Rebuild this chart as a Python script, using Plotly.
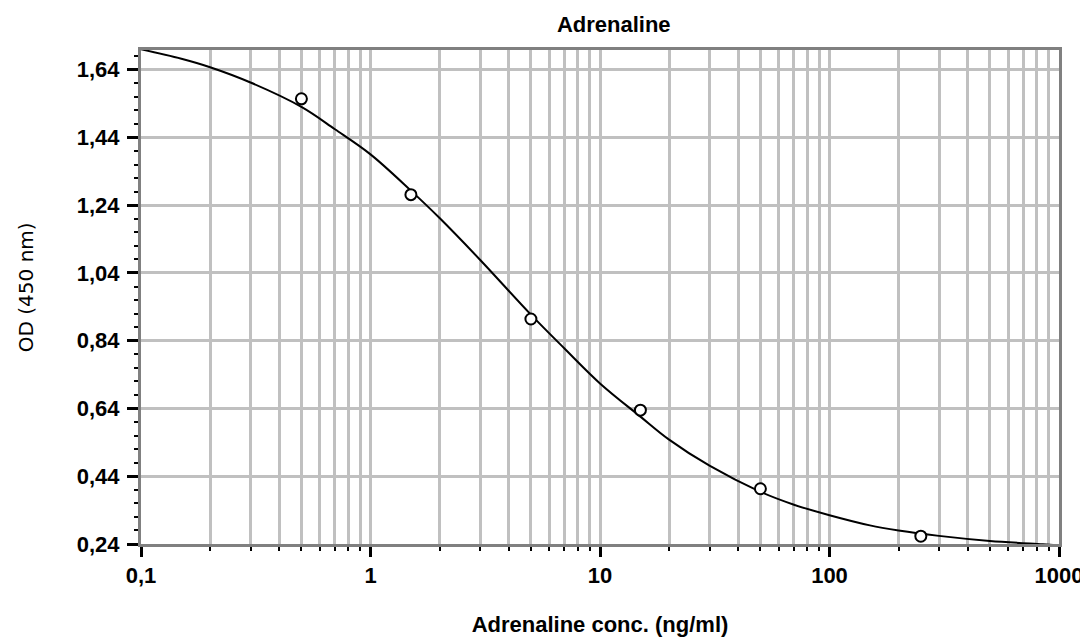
import plotly.graph_objects as go

# Measured standards
conc = [0.5, 1.5, 5, 15, 50, 250]
od = [1.554, 1.271, 0.904, 0.635, 0.403, 0.263]

# Fitted curve
curve_conc = [0.1, 0.15, 0.2, 0.3, 0.5, 0.7, 1, 1.5, 2, 3, 5, 7, 10, 15, 20,
              30, 50, 70, 100, 150, 200, 300, 500, 850, 1000]
curve_od = [1.700, 1.672, 1.647, 1.602, 1.530, 1.464, 1.390, 1.283, 1.202, 1.079,
            0.917, 0.817, 0.714, 0.616, 0.548, 0.471, 0.394, 0.356, 0.325, 0.295,
            0.280, 0.264, 0.249, 0.239, 0.236]

x_tick_vals = [0.1, 1, 10, 100, 1000]
x_tick_text = ["0,1", "1", "10", "100", "1000"]
x_minor_vals = [0.2, 0.3, 0.4, 0.5, 0.6, 0.7, 0.8, 0.9,
                2, 3, 4, 5, 6, 7, 8, 9,
                20, 30, 40, 50, 60, 70, 80, 90,
                200, 300, 400, 500, 600, 700, 800, 900]
y_tick_vals = [0.24, 0.44, 0.64, 0.84, 1.04, 1.24, 1.44, 1.64]
y_tick_text = ["0,24", "0,44", "0,64", "0,84", "1,04", "1,24", "1,44", "1,64"]

title_text = "Adrenaline"
x_title = "Adrenaline conc. (ng/ml)"
y_title = "OD (450 nm)"

bold = dict(family="Liberation Sans, Arial, sans-serif", size=22, color="black", weight="bold")
grid_col = "#c0c0c0"
frame_col = "#808080"

# the page body adds an 8px offset; size the figure to fit the window
W, H = 1080, 630
L, R, T, B = 133, 29, 42, 94

fig = go.Figure()
fig.add_trace(go.Scatter(
    x=curve_conc, y=curve_od, mode="lines",
    line=dict(color="black", width=2, shape="spline", smoothing=1.0),
    hoverinfo="skip", showlegend=False))
fig.add_trace(go.Scatter(
    x=conc, y=od, mode="markers",
    marker=dict(symbol="circle", size=11, color="white",
                line=dict(color="black", width=2)),
    showlegend=False, cliponaxis=False))

fig.update_layout(
    template="none",
    width=W, height=H,
    margin=dict(l=L, r=R, t=T, b=B, autoexpand=False),
    paper_bgcolor="white", plot_bgcolor="white",
    title=dict(text=title_text, font=bold, x=0.515, xref="paper", xanchor="center",
               y=1 - 16 / H, yref="container", yanchor="middle"),
    xaxis=dict(
        type="log", range=[-1, 3], automargin=False,
        tickmode="array", tickvals=x_tick_vals, ticktext=x_tick_text,
        ticks="outside", ticklen=10, tickwidth=2.5, tickcolor="black",
        tickfont=bold,
        showline=True, linecolor=frame_col, linewidth=2.5, mirror=True,
        showgrid=True, gridcolor=grid_col, gridwidth=3, zeroline=False,
        minor=dict(tickmode="array", tickvals=x_minor_vals, ticks="outside",
                   ticklen=4, tickwidth=2, tickcolor="black",
                   showgrid=True, gridcolor=grid_col, gridwidth=3),
        title=dict(text=x_title, font=bold, standoff=30),
    ),
    yaxis=dict(
        range=[0.24, 1.698], automargin=False,
        tickmode="array", tickvals=y_tick_vals, ticktext=y_tick_text,
        ticks="outside", ticklen=11, tickwidth=2.5, tickcolor="black",
        tickfont=bold, ticklabelstandoff=3,
        showline=True, linecolor=frame_col, linewidth=3, mirror=True,
        showgrid=True, gridcolor=grid_col, gridwidth=2.5, zeroline=False,
        minor=dict(tickmode="linear", tick0=0.24, dtick=0.04, ticks="outside",
                   ticklen=4, tickwidth=2, tickcolor="black", showgrid=False),
    ),
    annotations=[dict(
        text=y_title, textangle=-90, showarrow=False,
        xref="paper", yref="paper", x=(26 - 141.3) / 918, y=(544.5 - 288) / 494,
        xanchor="center", yanchor="middle",
        font=dict(family="DejaVu Sans, sans-serif", size=20, color="black"))],
)

fig.write_html("out.html")
